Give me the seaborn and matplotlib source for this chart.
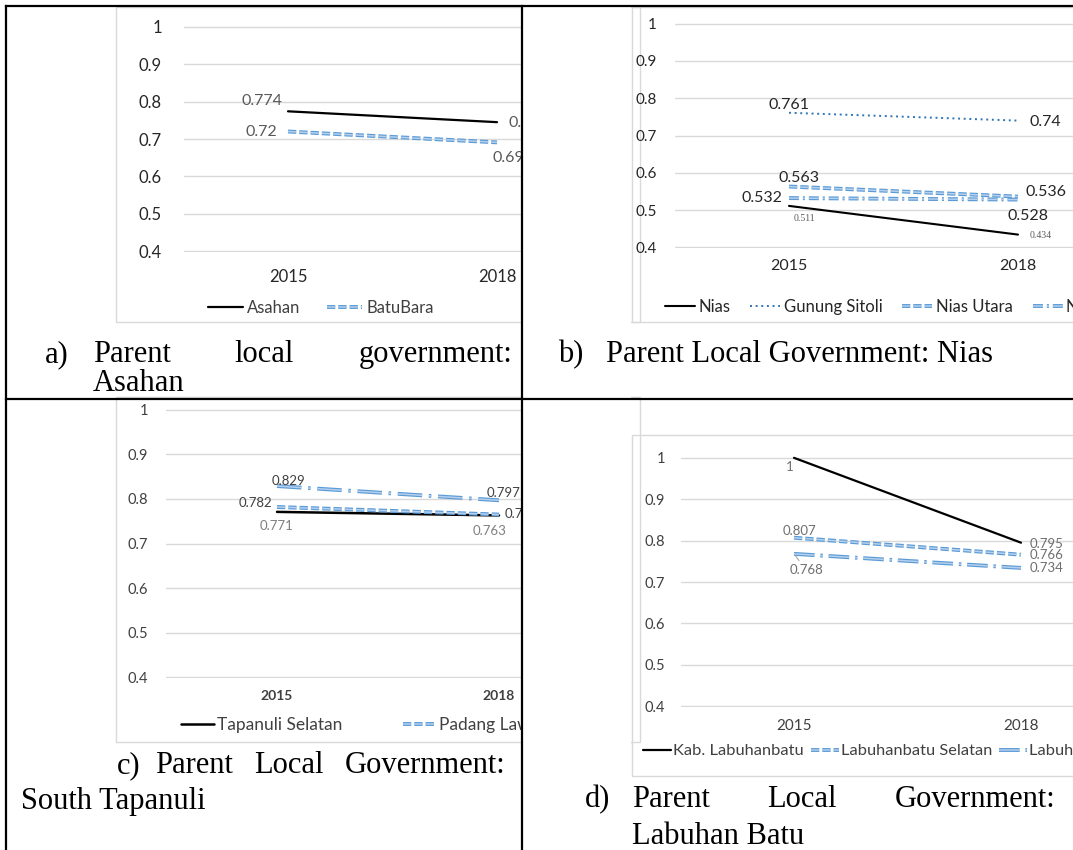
import numpy as np
import matplotlib
matplotlib.use("Agg")
import matplotlib.pyplot as plt
import matplotlib.patheffects as pe
from matplotlib.lines import Line2D
from matplotlib.patches import Rectangle
import seaborn as sns

# values
years = ["2015", "2018"]

asahan_names = ["Asahan", "BatuBara"]
asahan_values = [[0.774, 0.745], [0.72, 0.691]]

nias_names = ["Nias", "Gunung Sitoli", "Nias Utara", "Nias Barat"]
nias_values = [[0.511, 0.434], [0.761, 0.74], [0.563, 0.536], [0.532, 0.528]]

tapanuli_names = ["Tapanuli Selatan", "Padang Lawas", "Padang Lawas Utara"]
tapanuli_values = [[0.771, 0.763], [0.782, 0.765], [0.829, 0.797]]

labuhan_names = ["Kab. Labuhanbatu", "Labuhanbatu Selatan", "Labuhanbatu Utara"]
labuhan_values = [[1.0, 0.795], [0.807, 0.766], [0.768, 0.734]]

y_ticks = [0.4, 0.5, 0.6, 0.7, 0.8, 0.9, 1.0]
y_tick_labels = ["0.4", "0.5", "0.6", "0.7", "0.8", "0.9", "1"]

W, H = 1073, 850

sns.set_style("white")
plt.rcParams["font.family"] = ["Lato", "DejaVu Sans"]

OUTER, INNER, DOT = "#5b9bd5", "#b4d0ee", "#2e75b6"


def solid(lw=1.5):
    return dict(color="black", linewidth=lw, linestyle="-", clip_on=False)


def double(pattern):
    # Excel style double stroke: blue outline with a pale core
    return dict(color=INNER, linewidth=1.1, linestyle=(0, pattern), clip_on=False,
                path_effects=[pe.Stroke(linewidth=2.8, foreground=OUTER), pe.Normal()])


def dotted():
    return dict(color=DOT, linewidth=1.4, linestyle=(0, (1, 1.9)), clip_on=False)


SMALL_DASH = (5.4, 2.0)
GRAY, DARK = "#595959", "#262626"

panels = [
    dict(names=asahan_names, values=asahan_values,
         styles=[solid(1.6), double(SMALL_DASH)],
         plot=(183.5, 601.5, 26, 252), box=(116, 7, 640, 322), z=1,
         ypad=15.5, xpad=12, ysize=12, xsize=12, tick_color=DARK, xweight="normal",
         legend=dict(n=2, at=(208, 308), size=12, hl=2.1, tp=0.25, cs=1.6, color="#404040"),
         label_props=[dict(size=11.5, color=GRAY), dict(size=11.5, color=GRAY)],
         label_pos=[[(-6, 10, "right"), (11, -1, "left")],
                    [(-11, 0, "right"), (-5, -16, "left")]]),
    dict(names=nias_names, values=nias_values,
         styles=[solid(1.5), dotted(), double(SMALL_DASH), double((6.5, 2.6, 1.3, 2.6))],
         plot=(674.5, 1132.5, 23, 248), box=(632, 7, 1100, 322), z=3,
         ypad=12.6, xpad=8, ysize=11, xsize=11.5, tick_color=DARK, xweight="normal",
         legend=dict(n=4, at=(665, 307), size=12, hl=1.8, tp=0.2, cs=1.2, color="#262626"),
         label_props=[dict(size=7, color=GRAY, family="Liberation Serif"),
                      dict(size=11.5, color=DARK), dict(size=11.5, color=DARK),
                      dict(size=11.5, color=DARK)],
         label_pos=[[(15, -13, "center"), (12, -1, "left")],
                    [(0, 8, "center"), (12, -1, "left")],
                    [(10, 9, "center"), (7, 5, "left")],
                    [(-7, 0, "right"), (10, -16, "center")]]),
    dict(names=tapanuli_names, values=tapanuli_values,
         styles=[solid(1.8), double(SMALL_DASH), double((16, 4.4, 1.6, 4.4))],
         plot=(166, 610, 409, 678), box=(116, 397, 640, 742), z=1,
         ypad=13, xpad=9, ysize=10.5, xsize=10, tick_color="#404040", xweight="bold",
         legend=dict(n=2, at=(181, 725), size=12.5, hl=1.9, tp=0.2, cs=3.45, color="#404040"),
         label_props=[dict(size=9.5, color="#7f7f7f"), dict(size=9.5, color="#404040"),
                      dict(size=9.5, color="#404040")],
         label_pos=[[(0, -14, "center"), (-9, -16, "center")],
                    [(-5, 4, "right"), (6, 1, "left")],
                    [(12, 5, "center"), (-12, 7, "left")]]),
    dict(names=labuhan_names, values=labuhan_values,
         styles=[solid(1.6), double(SMALL_DASH), double((13.5, 3.8, 1.6, 3.8))],
         plot=(680.5, 1134.5, 457, 707), box=(632, 435, 1100, 776), z=3,
         ypad=11.2, xpad=9, ysize=10.5, xsize=11, tick_color="#404040", xweight="normal",
         legend=dict(n=3, at=(643, 751), size=11.8, hl=1.7, tp=0.12, cs=0.45, color="#404040"),
         label_props=[dict(size=9.5, color="#6f6f6f")] * 3,
         label_pos=[[(-4, -9, "center"), (9, -1, "left")],
                    [(5, 7, "center"), (9, 0, "left")],
                    [(12, -16, "center"), (9, 0, "left")]]),
]

fig = plt.figure(figsize=(W / 100, H / 100), dpi=100)


def fx(x):
    return x / W


def fy(y):
    return 1 - y / H


def draw_panel(p, leader=None):
    bx0, by0, bx1, by1 = p["box"]
    fig.add_artist(Rectangle((fx(bx0), fy(by1)), fx(bx1) - fx(bx0), fy(by0) - fy(by1),
                             transform=fig.transFigure, facecolor="none",
                             edgecolor="#d9d9d9", linewidth=1, zorder=0.5))
    x0, x1, yt, yb = p["plot"]
    ax = fig.add_axes([fx(x0), fy(yb), fx(x1) - fx(x0), fy(yt) - fy(yb)])
    ax.set_zorder(p["z"])
    ax.patch.set_visible(False)

    xpos = np.arange(len(years))
    lines = []
    for name, vals, style in zip(p["names"], p["values"], p["styles"]):
        sns.lineplot(x=xpos, y=vals, ax=ax, label=name, **style)
        lines.append(ax.lines[-1])

    ax.set_xlim(-0.5, len(years) - 0.5)
    ax.set_ylim(0.398, 1.002)
    ax.set_yticks(y_ticks, y_tick_labels)
    ax.set_xticks(xpos, years)
    ax.set_xlabel("")
    ax.set_ylabel("")
    ax.grid(axis="y", color="#d9d9d9", linewidth=1.0)
    ax.set_axisbelow(True)
    for s in ax.spines.values():
        s.set_visible(False)
    ax.tick_params(axis="y", length=0, pad=p["ypad"], labelsize=p["ysize"],
                   labelcolor=p["tick_color"])
    ax.tick_params(axis="x", length=0, pad=p["xpad"], labelsize=p["xsize"],
                   labelcolor=p["tick_color"])
    for t in ax.get_xticklabels():
        t.set_fontweight(p["xweight"])

    # data labels next to each point
    for k, (vals, props, pos) in enumerate(zip(p["values"], p["label_props"], p["label_pos"])):
        for i, (v, (dx, dy, ha)) in enumerate(zip(vals, pos)):
            kw = {}
            if leader == (k, i):
                kw["arrowprops"] = dict(arrowstyle="-", color="#a6a6a6", lw=0.8,
                                        shrinkA=0, shrinkB=2)
            ax.annotate(f"{v:g}", xy=(xpos[i], v), xytext=(dx, dy),
                        textcoords="offset pixels", ha=ha, va="center",
                        fontsize=props["size"], color=props["color"],
                        family=props.get("family", ["Lato", "DejaVu Sans"]),
                        annotation_clip=False, **kw)

    lg = p["legend"]
    ax.legend(lines[:lg["n"]], p["names"][:lg["n"]], loc="center left",
              bbox_to_anchor=(fx(lg["at"][0]), fy(lg["at"][1])),
              bbox_transform=fig.transFigure, ncol=lg["n"], frameon=False,
              borderpad=0, borderaxespad=0, fontsize=lg["size"],
              handlelength=lg["hl"], handletextpad=lg["tp"],
              columnspacing=lg["cs"], labelcolor=lg["color"])
    return ax


draw_panel(panels[0])
draw_panel(panels[1])
draw_panel(panels[2])
draw_panel(panels[3], leader=(2, 0))

# the left charts are cut off by the table's middle column line
fig.add_artist(Rectangle((fx(522.5), 0), fx(630.5) - fx(522.5), 1,
                         transform=fig.transFigure, facecolor="white",
                         edgecolor="none", zorder=2))

# table rules
rule = dict(color="black", linewidth=1.6, zorder=6, solid_capstyle="projecting")
fig.add_artist(Line2D([fx(6), fx(W)], [fy(6), fy(6)], **rule))
fig.add_artist(Line2D([fx(6), fx(W)], [fy(399), fy(399)], **rule))
fig.add_artist(Line2D([fx(6), fx(6)], [fy(6), 0], **rule))
fig.add_artist(Line2D([fx(521.5), fx(521.5)], [fy(6), 0], **rule))

# captions (justified lines placed word by word)
cap = dict(fontsize=22, family="Liberation Serif", va="baseline", ha="left",
           color="black", zorder=6)
captions = [
    [(45, 362, "a)"), (93, 362, "Parent"), (234, 362, "local"), (359, 362, "government:"),
     (93, 391, "Asahan")],
    [(558, 362, "b)"), (606, 362, "Parent Local Government: Nias")],
    [(117, 773, "c)"), (155, 773, "Parent"), (254, 773, "Local"), (345, 773, "Government:"),
     (21, 809, "South Tapanuli")],
    [(585, 807, "d)"), (632, 807, "Parent"), (767, 807, "Local"), (895, 807, "Government:"),
     (632, 844, "Labuhan Batu")],
]
for words in captions:
    for x, y, w in words:
        fig.text(fx(x), fy(y), w, **cap)

fig.savefig("out.png", dpi=100, facecolor="white")
